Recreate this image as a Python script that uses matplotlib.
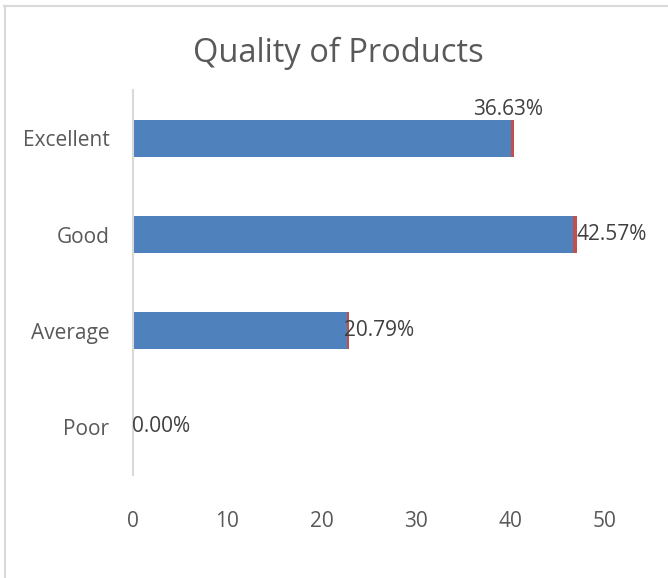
import matplotlib.pyplot as plt
from matplotlib.lines import Line2D

# Survey results: quality rating of products
categories = ["Excellent", "Good", "Average", "Poor"]
counts = [40.0, 46.6, 22.7, 0.0]
shares = [0.3663, 0.4257, 0.2079, 0.0]
xticks = [0, 10, 20, 30, 40, 50]

blue = "#4F81BD"
red = "#C0504D"
txt = "#595959"

plt.rcParams["font.family"] = ["Open Sans", "DejaVu Sans"]

fig = plt.figure(figsize=(6.68, 5.78), dpi=100)
ax = fig.add_axes([0.199, 0.178, 0.7066, 0.666])

y = list(range(len(categories)))[::-1]
ax.barh(y, counts, height=0.385, color=blue, edgecolor="none")
ax.barh(y, shares, left=counts, height=0.385, color=red, edgecolor="none")

# data labels for the share segment
for yi, c, s in zip(y, counts, shares):
    label = f"{s * 100:.2f}%"
    end = c + s
    if yi == 3:
        ax.text(end - 0.6, yi + 0.19, label, ha="center", va="bottom",
                fontsize=15, color="#404040")
    elif yi == 1:
        ax.text(end - 0.6, yi, label, ha="left", va="center",
                fontsize=15, color="#404040")
    else:
        ax.text(end - 0.05, yi, label, ha="left", va="center",
                fontsize=15, color="#404040")

ax.set_xlim(0, 50)
ax.set_ylim(-0.5, 3.5)
ax.set_yticks(y)
ax.set_yticklabels(categories, fontsize=15, color=txt)
ax.set_xticks(xticks)
ax.set_xticklabels([str(t) for t in xticks], fontsize=15, color=txt)
ax.tick_params(axis="both", length=0)
ax.tick_params(axis="x", pad=26)
ax.tick_params(axis="y", pad=17)

for side in ["top", "right", "bottom"]:
    ax.spines[side].set_visible(False)
ax.spines["left"].set_color("#D9D9D9")
ax.spines["left"].set_linewidth(1.5)

fig.text(0.507, 0.908, "Quality of Products", ha="center", va="center",
         fontsize=23.5, color=txt)

# chart area border
fig.add_artist(Line2D([0.006, 1.0], [0.99, 0.99], color="#D9D9D9", lw=1.5,
                      transform=fig.transFigure))
fig.add_artist(Line2D([0.007, 0.007], [0.0, 0.99], color="#D9D9D9", lw=1.5,
                      transform=fig.transFigure))

fig.savefig("out.png", dpi=100)
